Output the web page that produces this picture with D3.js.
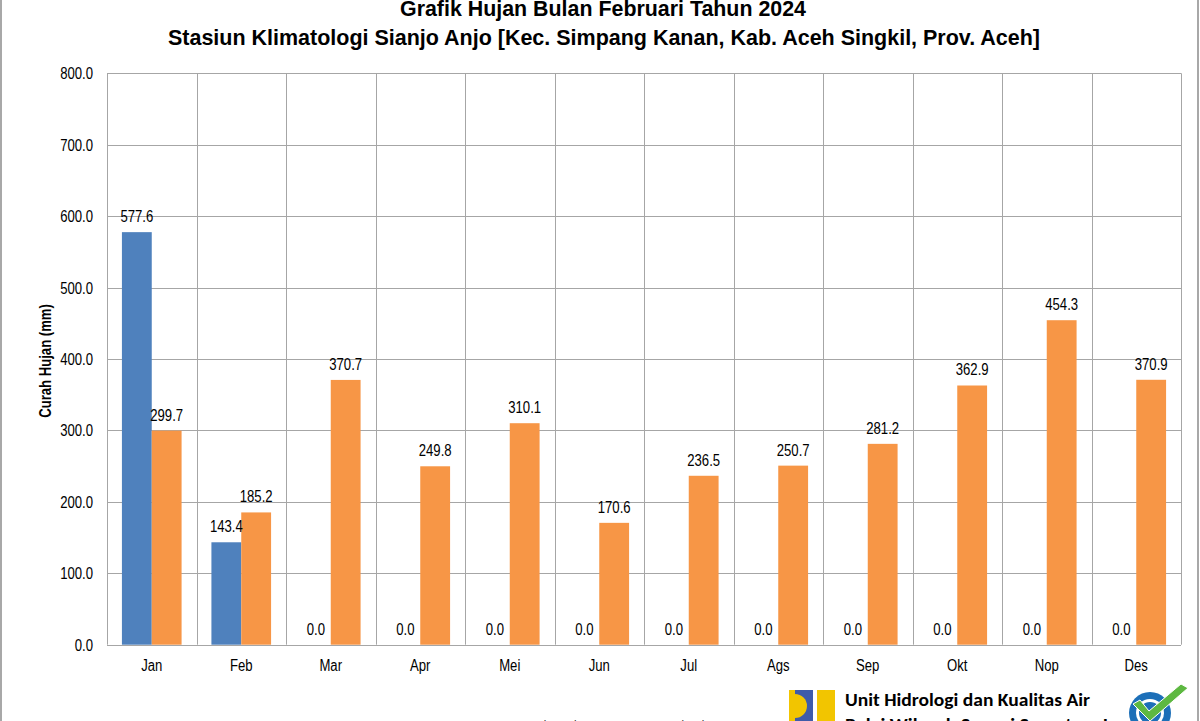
<!DOCTYPE html>
<html>
<head>
<meta charset="utf-8">
<script src="https://cdn.jsdelivr.net/npm/d3@7"></script>
<style>
  html, body { margin: 0; padding: 0; background: #fff; }
  svg { display: block; }
</style>
</head>
<body>
<svg id="chart" width="1200" height="721"></svg>
<script>
// ---- data ----
const months = ["Jan","Feb","Mar","Apr","Mei","Jun","Jul","Ags","Sep","Okt","Nop","Des"];
const hujan2024 = [577.6, 143.4, 0, 0, 0, 0, 0, 0, 0, 0, 0, 0];
const hujanNormal = [299.7, 185.2, 370.7, 249.8, 310.1, 170.6, 236.5, 250.7, 281.2, 362.9, 454.3, 370.9];
const yTicks = [0, 100, 200, 300, 400, 500, 600, 700, 800];
const seriesNames = ["Hujan Tahun 2024", "Normal Hujan"];
const titleLine1 = "Grafik Hujan Bulan Februari Tahun 2024";
const titleLine2 = "Stasiun Klimatologi Sianjo Anjo [Kec. Simpang Kanan, Kab. Aceh Singkil, Prov. Aceh]";
const yTitle = "Curah Hujan (mm)";
const footer1 = "Unit Hidrologi dan Kualitas Air";
const footer2 = "Balai Wilayah Sungai Sumatera I";

const colors = ["#4F81BD", "#F79646"];
const svg = d3.select("#chart");
const W = 1200, H = 721;
const m = { left: 107, right: 1181, top: 73.3, bottom: 644.7 };
const font = "'Liberation Sans Narrow', 'Arial Narrow', 'Liberation Sans', Arial, sans-serif";
const fs = 16;
const NARROW = 0.82;

// condense text horizontally to mimic a narrow typeface
function condense(sel, k) {
  sel.each(function () {
    const len = this.getComputedTextLength();
    d3.select(this).attr("textLength", len * k).attr("lengthAdjust", "spacingAndGlyphs");
  });
}

// outer frame
svg.append("rect").attr("x", 1).attr("y", -5).attr("width", 1197).attr("height", H + 10)
  .attr("fill", "none").attr("stroke", "#a8a8a8").attr("stroke-width", 2);

const x = d3.scaleBand().domain(months).range([m.left, m.right]).paddingInner(0).paddingOuter(0);
const x1 = d3.scaleBand().domain([0, 1]).range([0, x.bandwidth()]).paddingInner(0).paddingOuter(0.5);
const y = d3.scaleLinear().domain([0, 800]).range([m.bottom, m.top]);

// horizontal gridlines
svg.append("g").selectAll("line").data(yTicks).join("line")
  .attr("x1", m.left).attr("x2", m.right)
  .attr("y1", d => Math.round(y(d)) + 0.5).attr("y2", d => Math.round(y(d)) + 0.5)
  .attr("stroke", "#a6a6a6").attr("stroke-width", 1);

// vertical gridlines (category boundaries)
const bounds = months.map(d => x(d)).concat([m.right]);
svg.append("g").selectAll("line").data(bounds).join("line")
  .attr("x1", d => Math.round(d) + 0.5).attr("x2", d => Math.round(d) + 0.5)
  .attr("y1", m.top).attr("y2", m.bottom)
  .attr("stroke", "#a6a6a6").attr("stroke-width", 1);

// y tick labels
svg.append("g").selectAll("text").data(yTicks).join("text")
  .attr("x", 93).attr("y", d => y(d) + 6)
  .attr("text-anchor", "end").attr("font-family", font).attr("font-size", fs)
  .attr("fill", "#000").text(d => d.toFixed(1))
  .call(condense, NARROW);

// x labels
svg.append("g").selectAll("text").data(months).join("text")
  .attr("x", d => x(d) + x.bandwidth() / 2).attr("y", 671)
  .attr("text-anchor", "middle").attr("font-family", font).attr("font-size", fs)
  .attr("fill", "#000").text(d => d)
  .call(condense, NARROW);

// bars
const series = [hujan2024, hujanNormal];
series.forEach((vals, si) => {
  const g = svg.append("g");
  g.selectAll("rect").data(vals).join("rect")
    .attr("x", (d, i) => x(months[i]) + x1(si))
    .attr("width", x1.bandwidth())
    .attr("y", d => y(d))
    .attr("height", d => y(0) - y(d))
    .attr("fill", colors[si]);
});
// value labels
series.forEach((vals, si) => {
  svg.append("g").selectAll("text").data(vals).join("text")
    .attr("x", (d, i) => x(months[i]) + x1(si) + x1.bandwidth() / 2)
    .attr("y", d => y(d) - 10)
    .attr("text-anchor", "middle").attr("font-family", font).attr("font-size", fs)
    .attr("fill", "#000").text(d => d.toFixed(1))
    .call(condense, NARROW);
});

// axis baseline
svg.append("line").attr("x1", m.left).attr("x2", m.right)
  .attr("y1", Math.round(y(0)) + 0.5).attr("y2", Math.round(y(0)) + 0.5)
  .attr("stroke", "#a6a6a6");

// y axis title
svg.append("text").attr("transform", `translate(51,${(m.top + m.bottom) / 2 + 2}) rotate(-90)`)
  .attr("text-anchor", "middle").attr("font-family", font).attr("font-size", fs)
  .attr("font-weight", "bold").text(yTitle)
  .call(condense, NARROW);

// titles
svg.append("text").attr("x", 603).attr("y", 16).attr("text-anchor", "middle")
  .attr("font-family", font).attr("font-size", 22).attr("font-weight", "bold")
  .attr("textLength", 406).attr("lengthAdjust", "spacingAndGlyphs").text(titleLine1);
svg.append("text").attr("x", 604).attr("y", 45).attr("text-anchor", "middle")
  .attr("font-family", font).attr("font-size", 22).attr("font-weight", "bold")
  .attr("textLength", 872).attr("lengthAdjust", "spacingAndGlyphs").text(titleLine2);

// legend (mostly cut off at bottom)
const leg = svg.append("g");
seriesNames.forEach((n, i) => {
  const lx = 515 + i * 118;
  leg.append("rect").attr("x", lx).attr("y", 721).attr("width", 9).attr("height", 9).attr("fill", colors[i]);
  leg.append("text").attr("x", lx + 14).attr("y", 731).attr("font-family", font).attr("font-size", 14)
    .attr("fill", "#333").text(n).call(condense, NARROW);
});

// PU logo
const lg = svg.append("g");
lg.append("rect").attr("x", 789).attr("y", 690).attr("width", 24).attr("height", 40).attr("fill", "#F2C500");
lg.append("rect").attr("x", 795).attr("y", 690).attr("width", 18).attr("height", 40).attr("fill", "#3F5BA9");
lg.append("path").attr("d", "M795,694 A12,12 0 0 1 795,718 Z").attr("fill", "#F2C500");
lg.append("rect").attr("x", 817).attr("y", 690).attr("width", 18).attr("height", 40).attr("fill", "#F2C500");

// footer text
const ffont = "Carlito, Lato, 'Open Sans', 'Noto Sans', sans-serif";
svg.append("text").attr("x", 845).attr("y", 706).attr("font-family", ffont).attr("font-size", 19)
  .attr("font-weight", "bold").attr("fill", "#000")
  .attr("textLength", 245).attr("lengthAdjust", "spacingAndGlyphs").text(footer1);
svg.append("text").attr("x", 845).attr("y", 731).attr("font-family", ffont).attr("font-size", 19)
  .attr("font-weight", "bold").attr("fill", "#000")
  .attr("textLength", 263).attr("lengthAdjust", "spacingAndGlyphs").text(footer2);

// ISO logo
const iso = svg.append("g");
iso.append("circle").attr("cx", 1150).attr("cy", 713).attr("r", 21).attr("fill", "#1C6FB8");
iso.append("circle").attr("cx", 1150).attr("cy", 713).attr("r", 14).attr("fill", "#fff");
iso.append("circle").attr("cx", 1150).attr("cy", 713).attr("r", 11).attr("fill", "#1C6FB8");
iso.append("path").attr("d", "M1133,704 L1140,700 L1149,711 L1181,684 L1188,688 L1150,721 Z")
  .attr("fill", "#5DB841").attr("stroke", "#fff").attr("stroke-width", 1);
</script>
</body>
</html>
